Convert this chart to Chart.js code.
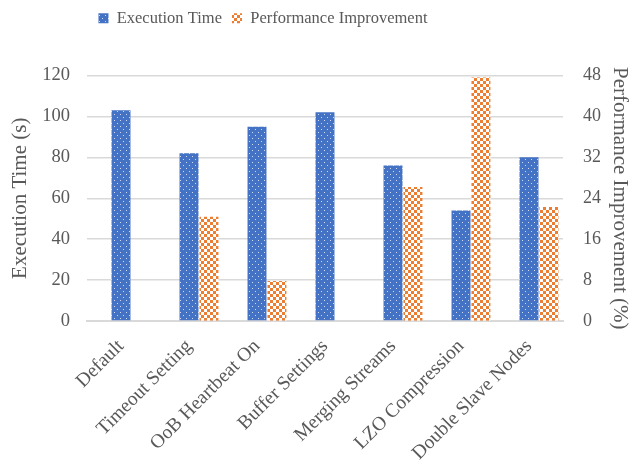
<!DOCTYPE html>
<html>
<head>
<meta charset="utf-8">
<script src="https://cdn.jsdelivr.net/npm/chart.js@4.4.1/dist/chart.umd.min.js"></script>
<style>
  html, body { margin: 0; padding: 0; background: #fff; }
  #wrap { width: 630px; height: 465px; }
</style>
</head>
<body>
<div id="wrap"><canvas id="perfChart"></canvas></div>
<script>
const categories = [
  'Default',
  'Timeout Setting',
  'OoB Heartbeat On',
  'Buffer Settings',
  'Merging Streams',
  'LZO Compression',
  'Double Slave Nodes',
];
const execTime = [103, 82, 95, 102, 76, 54, 80];
const perfImprove = [null, 20.4, 7.8, null, 26.2, 47.6, 22.3];
const spacer = categories.map(() => null);

const textColor = '#595959';
const gridColor = '#d9d9d9';
const serif = "'Liberation Serif', 'Times New Roman', serif";

// small tiled fills for the bars
function dotPattern() {
  const c = document.createElement('canvas');
  c.width = 6; c.height = 6;
  const g = c.getContext('2d');
  g.fillStyle = '#4472c4';
  g.fillRect(0, 0, 6, 6);
  g.fillStyle = 'rgba(255,255,255,0.75)';
  g.fillRect(0, 0, 1, 1);
  g.fillRect(3, 3, 1, 1);
  return g.createPattern(c, 'repeat');
}
function checkPattern() {
  const c = document.createElement('canvas');
  c.width = 6; c.height = 6;
  const g = c.getContext('2d');
  g.fillStyle = '#ffffff';
  g.fillRect(0, 0, 6, 6);
  g.fillStyle = '#ed7d31';
  g.fillRect(0, 0, 3, 3);
  g.fillRect(3, 3, 3, 3);
  return g.createPattern(c, 'repeat');
}

// legend sits left of centre with extra room below it
const legendTweak = {
  id: 'legendTweak',
  beforeInit(chart) {
    const fit = chart.legend.fit;
    chart.legend.fit = function () {
      fit.bind(chart.legend)();
      this.height += 39;
    };
  },
  afterLayout(chart) {
    chart.legend.left -= 52;
    chart.legend.right -= 52;
  }
};

const data = {
  labels: categories,
  datasets: [{
    label: '',
    data: spacer,
    yAxisID: 'y',
  }, {
    label: 'Execution Time',
    data: execTime,
    backgroundColor: dotPattern(),
    borderWidth: 0,
    yAxisID: 'y',
  }, {
    label: 'Performance Improvement',
    data: perfImprove,
    backgroundColor: checkPattern(),
    borderWidth: 0,
    yAxisID: 'y1',
  }]
};

const config = {
  type: 'bar',
  data: data,
  plugins: [legendTweak],
  options: {
    responsive: true,
    maintainAspectRatio: false,
    animation: false,
    datasets: {
      bar: {
        categoryPercentage: 0.88,
        barPercentage: 0.95,
      }
    },
    layout: {
      padding: 0
    },
    scales: {
      x: {
        afterFit: (s) => { s.height = 144; },
        grid: { display: false },
        border: { display: true, color: gridColor, width: 2 },
        ticks: {
          color: textColor,
          font: { family: serif, size: 19.5 },
          maxRotation: 45,
          minRotation: 45,
          padding: 6,
        }
      },
      y: {
        position: 'left',
        afterFit: (s) => { s.width = 87; },
        min: 0,
        max: 120,
        ticks: {
          stepSize: 20,
          color: textColor,
          font: { family: serif, size: 18.5 },
          padding: 17,
        },
        grid: { color: gridColor, lineWidth: 1.5, drawTicks: false },
        border: { display: false },
        title: {
          display: true,
          text: 'Execution Time (s)',
          color: textColor,
          font: { family: serif, size: 21, lineHeight: 1 },
          padding: { top: 9.5, bottom: 11.5 },
        }
      },
      y1: {
        position: 'right',
        afterFit: (s) => { s.width = 67; },
        min: 0,
        max: 48,
        ticks: {
          stepSize: 8,
          color: textColor,
          font: { family: serif, size: 18 },
          padding: 20,
        },
        grid: { drawOnChartArea: false, drawTicks: false },
        border: { display: false },
        title: {
          display: true,
          text: 'Performance Improvement (%)',
          color: textColor,
          font: { family: serif, size: 21, lineHeight: 1 },
          padding: 0,
        }
      }
    },
    plugins: {
      legend: {
        position: 'top',
        labels: {
          color: textColor,
          font: { family: serif, size: 16.5 },
          boxWidth: 10,
          boxHeight: 10,
          padding: 10,
          filter: (item) => item.text !== '',
        }
      },
      tooltip: { enabled: false }
    }
  }
};

const perfChart = new Chart(document.getElementById('perfChart'), config);
</script>
</body>
</html>
